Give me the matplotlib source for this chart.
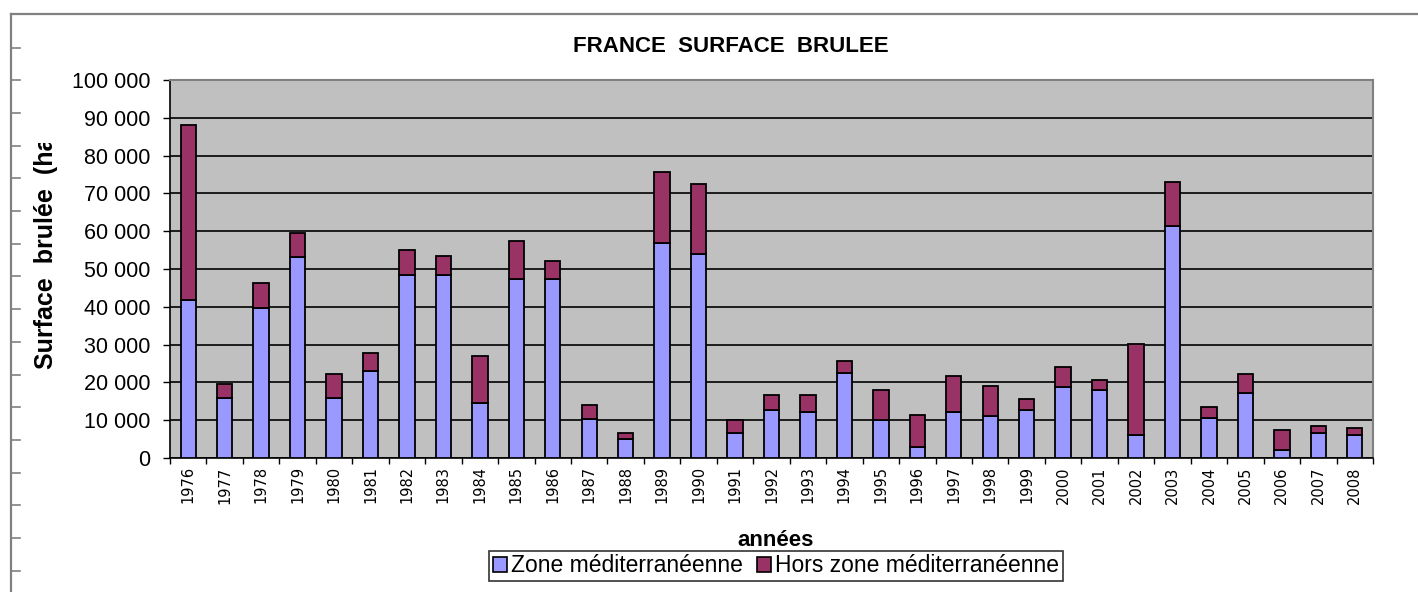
import matplotlib
matplotlib.use('Agg')
import matplotlib.pyplot as plt
import numpy as np
from matplotlib.lines import Line2D
from matplotlib.patches import Patch
from matplotlib.ticker import FuncFormatter
from matplotlib.transforms import Bbox, TransformedBbox

plt.rcParams['font.family'] = ['Liberation Sans', 'DejaVu Sans']

YEARS = ['1976', '1977', '1978', '1979', '1980', '1981', '1982', '1983', '1984',
         '1985', '1986', '1987', '1988', '1989', '1990', '1991', '1992', '1993',
         '1994', '1995', '1996', '1997', '1998', '1999', '2000', '2001', '2002',
         '2003', '2004', '2005', '2006', '2007', '2008']
# Surface brulee (ha)
ZONE_MED = [41800, 15900, 39600, 53300, 15900, 23100, 48300, 48300, 14500,
            47300, 47300, 10400, 5000, 56900, 53900, 6500, 12600, 12100,
            22600, 10000, 3000, 12100, 11000, 12600, 18700, 18100, 6000,
            61500, 10600, 17200, 2000, 6500, 6000]
HORS_MED = [46300, 3700, 6700, 6100, 6300, 4600, 6700, 5100, 12600,
            10100, 4700, 3700, 1500, 18700, 18700, 3500, 4100, 4600,
            3100, 8100, 8500, 9600, 8100, 3000, 5500, 2600, 24200,
            11600, 3000, 5000, 5500, 2000, 2000]
LABELS = ['Zone méditerranéenne', 'Hors zone méditerranéenne']
COLORS = ['#9999FF', '#993366']

W, H = 1418, 592
fig = plt.figure(figsize=(W / 100, H / 100), dpi=100)
ax = fig.add_axes([170 / W, 1 - 458 / H, (1373 - 170) / W, (458 - 80) / H])
ax.set_facecolor('#C0C0C0')

x = np.arange(len(YEARS))
ax.bar(x, ZONE_MED, width=0.42, color=COLORS[0], edgecolor='black', linewidth=1.3, zorder=3)
ax.bar(x, HORS_MED, width=0.42, bottom=ZONE_MED, color=COLORS[1], edgecolor='black',
       linewidth=1.3, zorder=3)

ax.set_xlim(-0.5, len(YEARS) - 0.5)
ax.set_ylim(0, 100000)
ax.set_yticks(np.arange(0, 100001, 10000))
ax.yaxis.set_major_formatter(FuncFormatter(lambda v, p: f'{int(v):,}'.replace(',', ' ')))
ax.grid(axis='y', color='black', linewidth=1.2, zorder=1)
ax.set_axisbelow(True)

ax.set_xticks(x)
ax.set_xticklabels(YEARS, rotation=90, fontsize=10.5, family='DejaVu Sans')
ax.set_xticks(np.arange(-0.5, len(YEARS)), minor=True)
ax.tick_params(axis='x', which='major', length=0, pad=6)
ax.tick_params(axis='x', which='minor', length=4, width=1, color='black', direction='out')
ax.tick_params(axis='y', length=5, width=1, direction='out', pad=9, labelsize=15.5)

for s in ('left', 'bottom'):
    ax.spines[s].set_color('black')
    ax.spines[s].set_linewidth(1.2)
for s in ('top', 'right'):
    ax.spines[s].set_color('#808080')
    ax.spines[s].set_linewidth(1.5)

# titles
fig.text(731 / W, 1 - 47 / H, 'FRANCE  SURFACE  BRULEE', ha='center', va='center',
         fontsize=16, fontweight='bold')
fig.text(776 / W, 1 - 541 / H, 'années', ha='center', va='center',
         fontsize=16, fontweight='bold')
yl = fig.text(46 / W, 1 - 369 / H, 'Surface  brulée  (ha)', rotation=90, ha='center',
              va='bottom', fontsize=18, fontweight='bold')
yl.set_clip_box(TransformedBbox(Bbox([[0, 0], [0.2, 1 - 143 / H]]), fig.transFigure))
yl.set_clip_on(True)

# legend
handles = [Patch(facecolor=c, edgecolor='black', linewidth=1.2) for c in COLORS]
leg = fig.legend(handles, LABELS, loc='center', bbox_to_anchor=(776 / W, 1 - 566 / H),
                 ncol=2, fontsize=16.5, frameon=True, fancybox=False, shadow=False,
                 handlelength=0.6, handleheight=0.6, handletextpad=0.2,
                 columnspacing=0.6, borderpad=0.15, borderaxespad=0)
leg.get_frame().set_edgecolor('black')
leg.get_frame().set_linewidth(1.2)

# outer page frame with its small ticks
fig.add_artist(Line2D([11 / W, 11 / W], [0, 1 - 14 / H], transform=fig.transFigure,
                      color='#808080', linewidth=1.6))
fig.add_artist(Line2D([11 / W, 1], [1 - 14 / H, 1 - 14 / H], transform=fig.transFigure,
                      color='#808080', linewidth=1.6))
for ty in np.arange(47.5, H, 32.7):
    fig.add_artist(Line2D([11 / W, 20 / W], [1 - ty / H, 1 - ty / H],
                          transform=fig.transFigure, color='#808080', linewidth=1.2))

fig.savefig('out.png', dpi=100)
